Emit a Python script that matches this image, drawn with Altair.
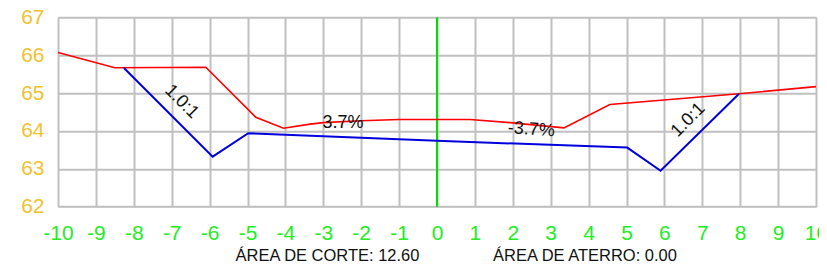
import altair as alt
import pandas as pd

# Terrain (red) profile
terrain_x = [-10, -8.5, -6.1, -4.78, -4.05, -3.35, -3.0, -2.0, -1.0, 0.0, 0.87, 1.93, 3.35, 4.56, 7.97, 10]
terrain_y = [66.07, 65.67, 65.68, 64.36, 64.07, 64.18, 64.22, 64.27, 64.30, 64.30, 64.30, 64.22, 64.08, 64.70, 64.98, 65.17]

# Design section (blue) profile
section_x = [-8.26, -5.92, -4.98, -4.0, 0.0, 5.02, 5.9, 7.97]
section_y = [65.66, 63.32, 63.94, 63.90, 63.74, 63.56, 62.95, 64.98]

# Annotations
label_text = ["1.0:1", "3.7%", "-3.7%", "1.0:1"]
label_x = [-6.74, -2.48, 2.49, 6.63]
label_y = [64.77, 64.22, 64.03, 64.29]
label_angle = [45, 0, 4, 315]

x_ticks = list(range(-10, 11))
y_ticks = [62, 63, 64, 65, 66, 67]

footer_text = ["ÁREA DE CORTE: 12.60", "ÁREA DE ATERRO: 0.00"]

terrain = pd.DataFrame({"x": terrain_x, "y": terrain_y})
section = pd.DataFrame({"x": section_x, "y": section_y})
labels = pd.DataFrame({"t": label_text, "x": label_x, "y": label_y, "a": label_angle})
axis_df = pd.DataFrame({"x": [0, 0], "y": [62, 67]})

xs = alt.Scale(domain=[-10, 10], nice=False, zero=False)
ys = alt.Scale(domain=[62, 67], nice=False, zero=False)

xaxis = alt.Axis(values=x_ticks, grid=True, gridColor="#c0c0c0", gridWidth=2, domain=False,
                 ticks=False, tickSize=0, labelColor="#22ee22", labelFontSize=21,
                 labelFont="Liberation Sans", labelPadding=16, title=None, labelFlush=False,
                 labelOverlap=False, labelExpr="datum.value + ''")
yaxis = alt.Axis(values=y_ticks, grid=True, gridColor="#c0c0c0", gridWidth=2, domain=False,
                 ticks=False, tickSize=0, labelColor="#f2c12e", labelFontSize=21,
                 labelFont="Liberation Sans", labelPadding=14, title=None, labelFlush=False,
                 labelOverlap=False, labelExpr="datum.value + ''")

X = alt.X("x:Q", scale=xs, axis=xaxis)
Y = alt.Y("y:Q", scale=ys, axis=yaxis)

center = alt.Chart(axis_df).mark_line(color="#00dd00", strokeWidth=2).encode(x=X, y=Y)

red = alt.Chart(terrain).mark_line(color="#ff0000", strokeWidth=1.6).encode(
    x=X, y=Y, order=alt.Order("x:Q")
)

blue = alt.Chart(section).mark_line(color="#0000dd", strokeWidth=2).encode(
    x=X, y=Y, order=alt.Order("x:Q")
)

texts = alt.Chart(labels).mark_text(font="Liberation Sans", fontSize=18, color="#111111",
                                    align="center", baseline="middle").encode(
    x=X, y=Y, text="t:N", angle=alt.Angle("a:Q", scale=None)
)

foot1 = alt.Chart(pd.DataFrame({"t": [footer_text[0]]})).mark_text(
    font="Liberation Sans", fontSize=16.5, color="#111111", align="center", baseline="middle"
).encode(text="t:N", x=alt.value(269.5), y=alt.value(238.7))

foot2 = alt.Chart(pd.DataFrame({"t": [footer_text[1]]})).mark_text(
    font="Liberation Sans", fontSize=16.5, color="#111111", align="center", baseline="middle"
).encode(text="t:N", x=alt.value(527), y=alt.value(238.7))

chart = alt.layer(center, red, blue, texts, foot1, foot2).properties(
    width=758, height=189.4,
    autosize=alt.AutoSizeParams(type="none"),
    padding={"left": 50, "top": 9.3, "right": 3, "bottom": 60},
).configure_view(stroke=None).configure(background="white")

chart.save("out.html", embed_options={"renderer": "svg", "actions": False})
